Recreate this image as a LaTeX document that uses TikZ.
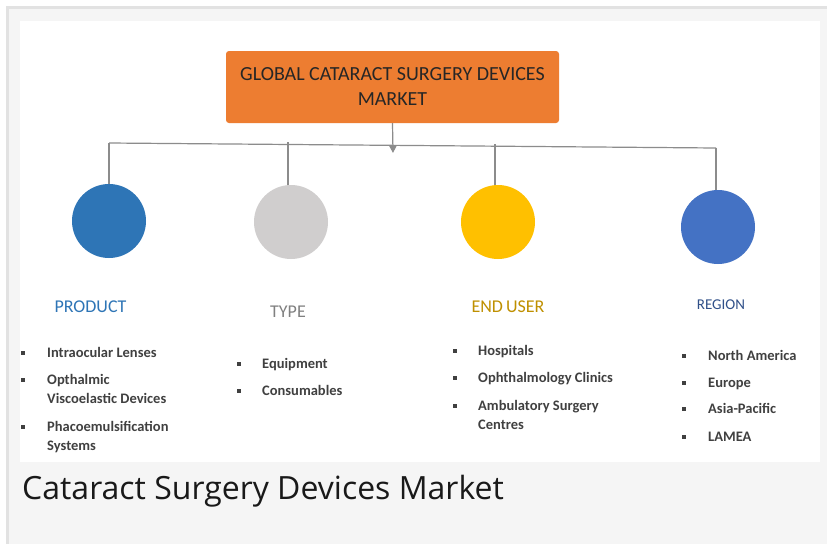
\documentclass[tikz,border=0pt]{standalone}
\usepackage{fontspec}
\setmainfont{Carlito}
\newfontfamily\captionfont{Open Sans}
\usetikzlibrary{arrows.meta}
\definecolor{marketorange}{HTML}{ED7D31}
\definecolor{productblue}{HTML}{2E75B6}
\definecolor{typegray}{HTML}{D0CECE}
\definecolor{usergold}{HTML}{FFC000}
\definecolor{regionblue}{HTML}{4472C4}
\definecolor{linegray}{HTML}{8C8C8C}
\definecolor{itemgray}{HTML}{404040}
\definecolor{pagegray}{HTML}{F5F5F5}
\definecolor{framegray}{HTML}{E2E2E2}

\begin{document}
\begin{tikzpicture}[x=1pt, y=-1pt,
    segment/.style={circle, minimum size=74pt, inner sep=0pt},
    heading/.style={anchor=base, inner sep=0pt, font=\fontsize{18}{22}\selectfont},
    item/.style={anchor=base west, inner sep=0pt, align=left, text=itemgray,
                 font=\fontsize{14.5}{19}\selectfont\bfseries},
    bullet/.style={fill=itemgray, minimum size=3.6pt, inner sep=0pt},
    link/.style={draw=linegray, line width=1.2pt}]
    \useasboundingbox (0,0) rectangle (827,544);

    % Page frame
    \fill[framegray] (6,6) rectangle (827,544);
    \fill[pagegray] (9,9) rectangle (827,544);
    \fill[white] (20,21) rectangle (820,462);

    % Title box
    \node[fill=marketorange, rounded corners=3pt, minimum width=333pt, minimum height=72pt,
          align=center, font=\fontsize{20}{25}\selectfont, text=black!85] (market) at (392.5,87)
          {GLOBAL CATARACT SURGERY DEVICES\\MARKET};

    % Branches
    \coordinate (hub) at (393,153);
    \coordinate (leftend) at (109,143);
    \coordinate (rightend) at (716,148);
    \draw[link] (leftend) -- (rightend);
    \draw[link, -{Triangle[width=7pt, length=7pt]}] (market.south) -- (hub);

    % Segments
    \node[segment, fill=productblue] (product) at (109,221) {};
    \node[segment, fill=typegray] (type) at (291,222) {};
    \node[segment, fill=usergold] (enduser) at (498,222) {};
    \node[segment, fill=regionblue] (region) at (718,227) {};

    \coordinate (drop1) at (109,143);
    \coordinate (drop2) at (288,142);
    \coordinate (drop3) at (495,144);
    \coordinate (drop4) at (716,148);
    \draw[link] (drop1) -- (drop1 |- product.north);
    \draw[link] (drop2) -- (drop2 |- type.north);
    \draw[link] (drop3) -- (drop3 |- enduser.north);
    \draw[link] (drop4) -- (drop4 |- region.north);

    % Headings
    \node[heading, text=productblue] (producthead) at (90.5,312) {PRODUCT};
    \node[heading, text=black!50] (typehead) at (288,317) {TYPE};
    \node[heading, text=usergold!75!black] (userhead) at (508,312) {END\,USER};
    \node[heading, text=regionblue!70!black, font=\fontsize{15}{18}\selectfont] (regionhead) at (721,309) {REGION};

    % Product items (y = first baseline, n = extra lines)
    \foreach \y/\n/\txt [count=\i] in {357.5/0/Intraocular Lenses, 384.5/1/{Opthalmic\\Viscoelastic Devices}, 431.5/1/{Phacoemulsification\\Systems}} {
        \node[bullet] (productdot\i) at (23,\y-4.5) {};
        \node[item] (productitem\i) at (47,\y+19*\n) {\txt};
    }

    % Type items
    \foreach \y/\n/\txt [count=\i] in {368.5/0/Equipment, 395.5/0/Consumables} {
        \node[bullet] (typedot\i) at (239,\y-4.5) {};
        \node[item] (typeitem\i) at (262,\y+19*\n) {\txt};
    }

    % End user items
    \foreach \y/\n/\txt [count=\i] in {355.5/0/Hospitals, 382.5/0/Ophthalmology Clinics, 410.5/1/{Ambulatory Surgery\\Centres}} {
        \node[bullet] (userdot\i) at (455,\y-4.5) {};
        \node[item] (useritem\i) at (478,\y+19*\n) {\txt};
    }

    % Region items
    \foreach \y/\n/\txt [count=\i] in {360.5/0/North America, 387.5/0/Europe, 413.5/0/Asia-Pacific, 441.5/0/LAMEA} {
        \node[bullet] (regiondot\i) at (684,\y-4.5) {};
        \node[item] (regionitem\i) at (708,\y+19*\n) {\txt};
    }

    % Caption
    \node[anchor=base west, inner sep=0pt, font=\captionfont\fontsize{32}{38}\selectfont, text=black!90]
        (caption) at (22,499) {Cataract Surgery Devices Market};
\end{tikzpicture}
\end{document}
